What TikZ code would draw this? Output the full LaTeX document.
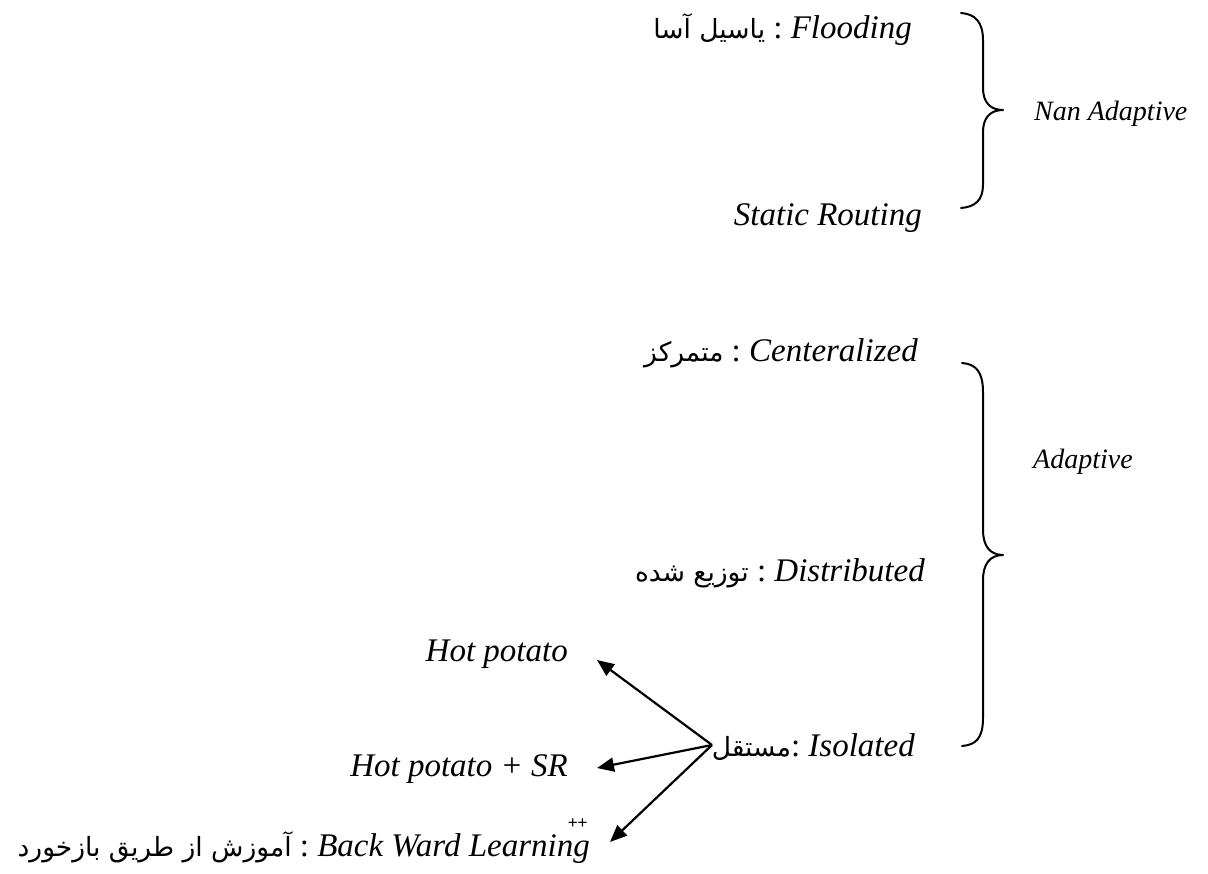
\documentclass[tikz,border=0pt]{standalone}
\usepackage{fontspec}
\setmainfont{Liberation Serif}
\newfontfamily\farsifont[Script=Arabic]{DejaVu Sans}
\newfontfamily\plusfont{Liberation Sans}
\TeXXeTstate=1
\usetikzlibrary{arrows.meta}
\newcommand\pers[1]{{\farsifont\upshape\fontsize{26.5}{32}\selectfont\beginR #1\endR}}
\tikzset{
  lbl/.style={inner sep=0pt, font=\fontsize{33}{40}\selectfont\itshape},
  grp/.style={inner sep=0pt, font=\fontsize{28}{34}\selectfont\itshape},
  bracepath/.style={line width=2pt, line cap=round, line join=round},
  arr/.style={line width=2.2pt, -{Triangle[length=17pt,width=14pt]}}
}
\begin{document}
\begin{tikzpicture}[x=1pt,y=1pt]
\path[fill=white] (0,0) rectangle (1208,-874);
\useasboundingbox (0,0) rectangle (1208,-874);

% Non adaptive group
\node[lbl, anchor=base east] (flood) at (912,-39) {\pers{یاسیل آسا}\ {\upshape:}\ Flooding};
\node[lbl, anchor=base east] (static) at (922,-226) {Static Routing};
\node[grp, anchor=base west] (nan) at (1034,-121) {Nan Adaptive};
\draw[bracepath] (961,-13) .. controls (975,-14) and (983,-22) .. (983,-40)
  -- (983,-88) .. controls (983,-102) and (990,-110) .. (1003,-110)
  .. controls (990,-110) and (983,-118) .. (983,-132)
  -- (983,-185) .. controls (983,-200) and (975,-207) .. (961,-208);

% Adaptive group
\node[lbl, anchor=base east] (central) at (918,-362) {\pers{متمرکز}\ {\upshape:}\ Centeralized};
\node[lbl, anchor=base east] (distrib) at (925,-581) {\pers{توزیع شده}\ {\upshape:}\ Distributed};
\node[lbl, anchor=base east] (iso) at (915,-756) {\pers{مستقل}{\upshape:}\ Isolated};
\node[grp, anchor=base west] (adap) at (1033,-469) {Adaptive};
\draw[bracepath] (962,-363) .. controls (976,-364) and (983,-372) .. (983,-392)
  -- (983,-530) .. controls (983,-546) and (990,-555) .. (1003,-555)
  .. controls (990,-555) and (983,-564) .. (983,-580)
  -- (983,-718) .. controls (983,-738) and (976,-745) .. (962,-746);

% Isolated children
\node[lbl, anchor=base east] (hp) at (568,-661) {Hot potato};
\node[lbl, anchor=base east] (hpsr) at (568,-776) {Hot potato + SR};
\node[lbl, anchor=base east] (bwl) at (590,-856) {\pers{آموزش از طریق بازخورد}\ {\upshape:}\ Back Ward Learning\rlap{\kern-22pt\raisebox{28pt}{\plusfont\upshape\fontsize{17}{20}\selectfont ++}}};

\coordinate (fork) at (712,-745);
\coordinate (tipA) at (597,-660);
\coordinate (tipB) at (597,-768);
\coordinate (tipC) at (610,-842);
\draw[arr] (fork) -- (tipA);
\draw[arr] (fork) -- (tipB);
\draw[arr] (fork) -- (tipC);
\end{tikzpicture}
\end{document}
